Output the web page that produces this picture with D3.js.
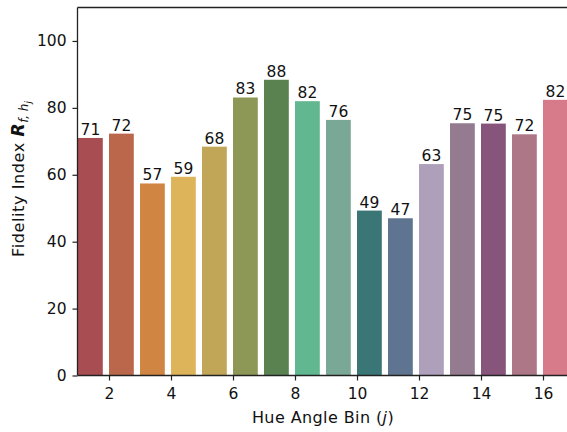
<!DOCTYPE html>
<html>
<head>
<meta charset="utf-8">
<script src="https://cdn.jsdelivr.net/npm/d3@7"></script>
<style>
  html, body { margin: 0; padding: 0; background: #fff; }
  svg { display: block; font-family: "DejaVu Sans", sans-serif; }
</style>
</head>
<body>
<svg id="chart" width="567" height="432"></svg>
<script>
const bins = [1,2,3,4,5,6,7,8,9,10,11,12,13,14,15,16];
const values = [71.0,72.3,57.4,59.4,68.4,83.1,88.4,82.0,76.4,49.3,47.0,63.2,75.4,75.3,72.1,82.4];
const colors = ["#a84d52","#bb674c","#d08542","#deb45a","#c0a656","#8e9856","#5a8250","#61b890",
                "#7aa896","#3a7676","#5e7490","#ae9fbb","#947b8f","#87557c","#ad7787","#d77a8a"];
const xTicks = [2,4,6,8,10,12,14,16];
const yTicks = [0,20,40,60,80,100];
const xLabel = "Hue Angle Bin";
const yLabel = "Fidelity Index";

(function () {
const svg = d3.select("#chart");
const mLeft = 77.5, mTop = 7.5, mBottom = 375.5;
const x = d3.scaleLinear().domain([1, 17]).range([78, 574]);
const y = d3.scaleLinear().domain([0, 110]).range([mBottom, mTop]);
const barW = x(1.8) - x(1);
const ink = "#222";
const fs = 15.5;

// bars
svg.append("g").selectAll("rect").data(bins).join("rect")
  .attr("x", d => x(d))
  .attr("y", (d,i) => y(values[i]))
  .attr("width", barW)
  .attr("height", (d,i) => y(0) - y(values[i]))
  .attr("fill", (d,i) => colors[i]);

// value labels
svg.append("g").selectAll("text").data(bins).join("text")
  .attr("x", d => x(d) + barW/2)
  .attr("y", (d,i) => y(values[i]) - 3)
  .attr("text-anchor", "middle")
  .attr("font-size", fs)
  .attr("fill", "#111")
  .text((d,i) => Math.round(values[i]));

// axes
const xAxis = d3.axisBottom(x).tickValues(xTicks).tickSize(5).tickPadding(7).tickFormat(d3.format("d"));
const gx = svg.append("g").attr("transform", `translate(0,${mBottom})`).call(xAxis);
const yAxis = d3.axisLeft(y).tickValues(yTicks).tickSize(5).tickPadding(6);
const gy = svg.append("g").attr("transform", `translate(${mLeft},0)`).call(yAxis);
[gx, gy].forEach(g => {
  g.select(".domain").remove();
  g.selectAll(".tick line").attr("stroke", ink).attr("stroke-width", 1.2);
  g.selectAll(".tick text").attr("fill", "#111").attr("font-size", fs).attr("font-family", "DejaVu Sans, sans-serif");
});

// spines
svg.append("line").attr("x1", mLeft).attr("x2", 567).attr("y1", mBottom).attr("y2", mBottom).attr("stroke", ink).attr("stroke-width", 1.3);
svg.append("line").attr("x1", mLeft).attr("x2", 567).attr("y1", mTop).attr("y2", mTop).attr("stroke", ink).attr("stroke-width", 1.3);
svg.append("line").attr("x1", mLeft).attr("x2", mLeft).attr("y1", mTop).attr("y2", mBottom).attr("stroke", ink).attr("stroke-width", 1.3);

// x label
const xl = svg.append("text").attr("x", 323).attr("y", 423).attr("text-anchor", "middle")
  .attr("font-size", 16).attr("letter-spacing", 0.4).attr("fill", "#111");
xl.append("tspan").text(xLabel + " (");
xl.append("tspan").attr("font-style", "italic").text("j");
xl.append("tspan").text(")");

// y label
const yl = svg.append("text").attr("transform", "translate(24,179) rotate(-90)").attr("text-anchor", "middle")
  .attr("font-size", 16).attr("letter-spacing", 0.6).attr("fill", "#111");
yl.append("tspan").text(yLabel + " ");
yl.append("tspan").attr("font-weight", "bold").attr("font-style", "italic").attr("font-size", 17).text("R");
yl.append("tspan").attr("font-style", "italic").attr("font-size", 12).attr("dy", 4).attr("letter-spacing", 0).text("f, h");
yl.append("tspan").attr("font-style", "italic").attr("font-size", 9).attr("dy", 3).attr("letter-spacing", 0).text("j");
})();
</script>
</body>
</html>
